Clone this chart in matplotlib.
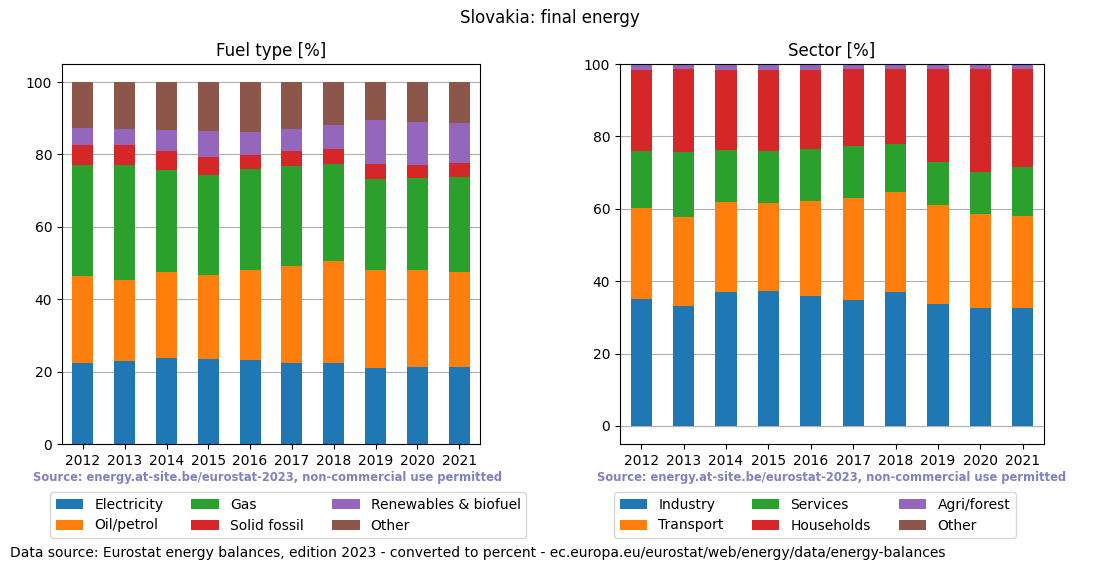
import numpy as np
import matplotlib
matplotlib.use("Agg")
import matplotlib.pyplot as plt

years = [2012, 2013, 2014, 2015, 2016, 2017, 2018, 2019, 2020, 2021]

# fuel type shares [%]
fuel_labels = ["Electricity", "Oil/petrol", "Gas", "Solid fossil", "Renewables & biofuel", "Other"]
electricity = [22.4, 22.9, 23.8, 23.5, 23.2, 22.4, 22.4, 21.0, 21.3, 21.3]
oil_petrol = [24.1, 22.4, 23.8, 23.2, 24.9, 26.8, 28.2, 27.1, 26.8, 26.3]
gas = [30.6, 31.8, 28.2, 27.7, 27.9, 27.7, 26.8, 25.2, 25.5, 26.2]
solid_fossil = [5.6, 5.6, 5.2, 5.0, 3.9, 4.1, 4.2, 4.1, 3.5, 3.9]
renewables = [4.7, 4.4, 5.8, 7.1, 6.4, 6.1, 6.6, 12.2, 11.9, 11.1]
fuel_other = [12.6, 12.9, 13.2, 13.5, 13.7, 12.9, 11.8, 10.4, 11.0, 11.2]

# sector shares [%]
sector_labels = ["Industry", "Transport", "Services", "Households", "Agri/forest", "Other"]
industry = [35.1, 33.2, 37.1, 37.3, 35.9, 34.8, 37.1, 33.7, 32.6, 32.6]
transport = [25.2, 24.6, 24.8, 24.4, 26.3, 28.2, 27.6, 27.4, 26.0, 25.5]
services = [15.7, 18.0, 14.4, 14.3, 14.4, 14.4, 13.3, 11.9, 11.6, 13.5]
households = [22.4, 22.9, 22.1, 22.4, 21.8, 21.3, 20.7, 25.7, 28.5, 27.1]
agri_forest = [1.6, 1.3, 1.6, 1.6, 1.6, 1.3, 1.3, 1.3, 1.3, 1.3]
sector_other = [0.0, 0.0, 0.0, 0.0, 0.0, 0.0, 0.0, 0.0, 0.0, 0.0]

colors = ["#1f77b4", "#ff7f0e", "#2ca02c", "#d62728", "#9467bd", "#8c564b"]
src = "Source: energy.at-site.be/eurostat-2023, non-commercial use permitted"


def stacked(ax, series, labels, title):
    x = np.arange(len(years))
    bottom = np.zeros(len(years))
    for vals, lab, col in zip(series, labels, colors):
        ax.bar(x, vals, 0.5, bottom=bottom, color=col, label=lab, zorder=2)
        bottom += np.array(vals)
    ax.set_xticks(x)
    ax.set_xticklabels([str(y) for y in years])
    ax.set_xlim(-0.5, len(years) - 0.5)
    ax.yaxis.grid(True, color="#b0b0b0", zorder=0)
    ax.set_axisbelow(True)
    ax.set_title(title, fontsize=12)


fig = plt.figure(figsize=(11, 5.72), dpi=100)
ax1 = fig.add_axes([62 / 1100, 128 / 572, 418 / 1100, 380 / 572])
ax2 = fig.add_axes([620 / 1100, 128 / 572, 424 / 1100, 380 / 572])

stacked(ax1, [electricity, oil_petrol, gas, solid_fossil, renewables, fuel_other], fuel_labels, "Fuel type [%]")
ax1.set_ylim(0, 105)
stacked(ax2, [industry, transport, services, households, agri_forest, sector_other], sector_labels, "Sector [%]")
ax2.set_ylim(-5, 100)

fig.suptitle("Slovakia: final energy", fontsize=12, y=0.985)

fig.text(268 / 1100, 1 - 478 / 572, src, ha="center", va="center", fontsize=8.3,
         fontweight="bold", color="#8080c8")
fig.text(832 / 1100, 1 - 478 / 572, src, ha="center", va="center", fontsize=8.3,
         fontweight="bold", color="#8080c8")

ax1.legend(loc="upper left", bbox_to_anchor=(50 / 1100, 1 - 492 / 572), bbox_transform=fig.transFigure,
           borderaxespad=0, ncol=3, fontsize=10)
ax2.legend(loc="upper left", bbox_to_anchor=(614 / 1100, 1 - 492 / 572), bbox_transform=fig.transFigure,
           borderaxespad=0, ncol=3, fontsize=10)

fig.text(10 / 1100, 1 - 553 / 572,
         "Data source: Eurostat energy balances, edition 2023 - converted to percent - ec.europa.eu/eurostat/web/energy/data/energy-balances",
         ha="left", va="center", fontsize=10)

fig.savefig("out.png", dpi=100)
